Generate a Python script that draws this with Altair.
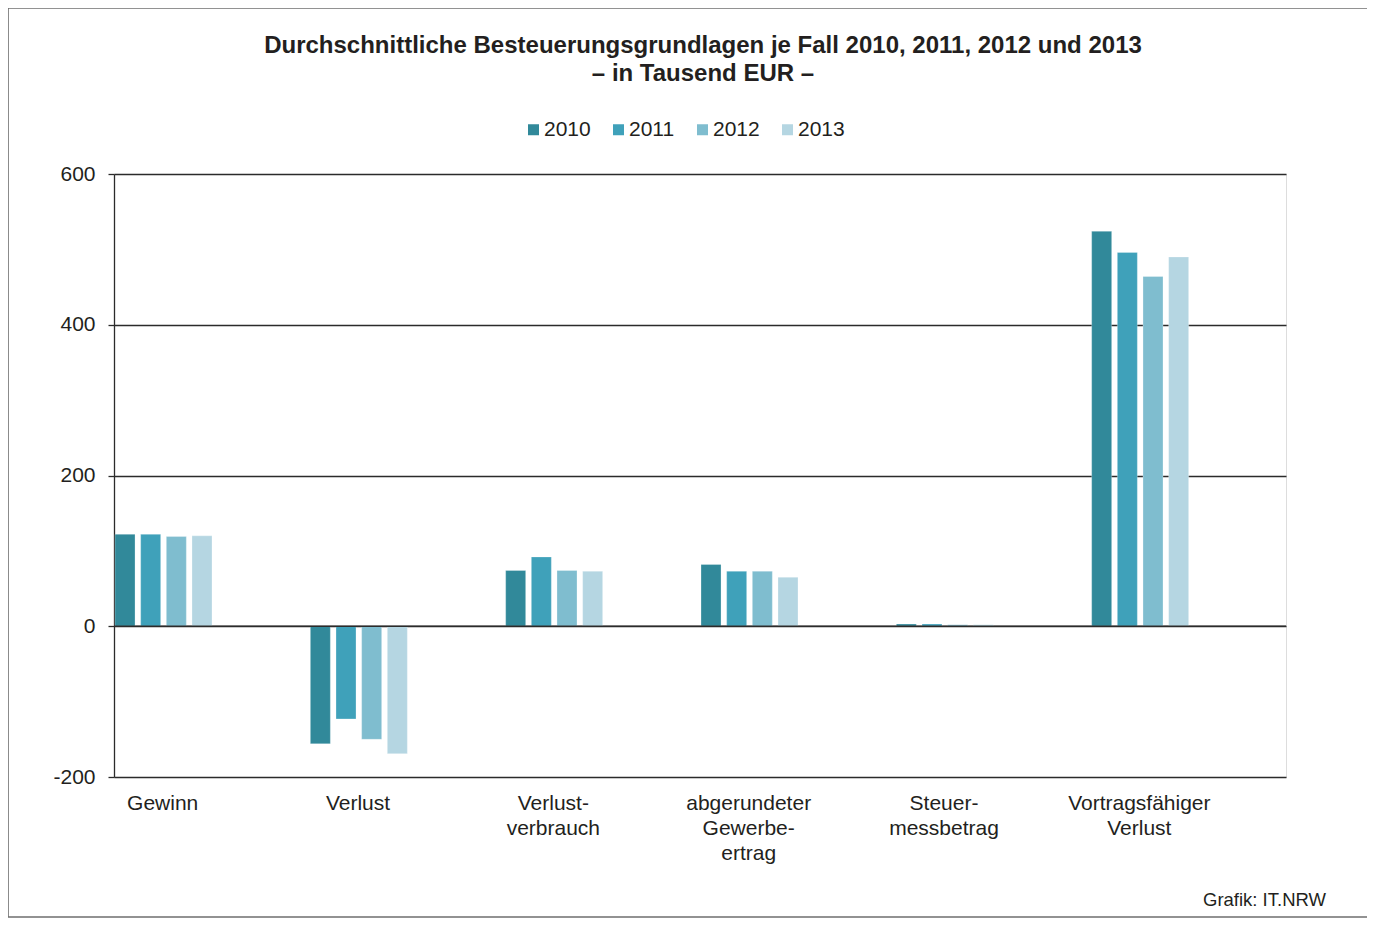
import altair as alt
import pandas as pd

categories = ["Gewinn", "Verlust", "Verlust-\nverbrauch", "abgerundeter\nGewerbe-\nertrag", "Steuer-\nmessbetrag", "Vortragsfähiger\nVerlust"]
years = ["2010", "2011", "2012", "2013"]
v2010 = [122, -156, 74, 82, 3, 524]
v2011 = [122, -123, 92, 73, 3, 496]
v2012 = [119, -150, 74, 73, 2, 464]
v2013 = [120, -169, 73, 65, 2, 490]
colors = ["#31899a", "#3fa1ba", "#7fbdcf", "#b5d6e2"]
y_ticks = [-200, 0, 200, 400, 600]

rows = []
for yr, vals in zip(years, [v2010, v2011, v2012, v2013]):
    for c, v in zip(categories, vals):
        rows.append({"Kategorie": c, "Jahr": yr, "Wert": v})
df = pd.DataFrame(rows)

FONT = "Liberation Sans"
TXT = "#231f20"
W, H = 1172, 603

x_enc = alt.X("Kategorie:N", sort=categories, title=None,
              scale=alt.Scale(paddingInner=0, paddingOuter=0),
              axis=alt.Axis(labelAngle=0, domain=False, ticks=False, labelFont=FONT,
                            labelFontSize=21, labelColor=TXT, labelPadding=15,
                            labelOffset=-49, labelBaseline="top", labelLineHeight=25,
                            labelExpr="split(datum.label, '\\n')"))

bars = alt.Chart(df).mark_bar(stroke="white", strokeOpacity=0.35, strokeWidth=0.8).encode(
    x=x_enc,
    xOffset=alt.XOffset("Jahr:N", sort=years,
                        scale=alt.Scale(range=[1, 98], paddingInner=0.22, paddingOuter=0)),
    y=alt.Y("Wert:Q", title=None,
            scale=alt.Scale(domain=[-200, 600], nice=False, zero=False),
            axis=alt.Axis(values=y_ticks, grid=True, gridColor="#2b2b2b", gridWidth=1.3,
                          domain=True, domainColor="#2b2b2b", domainWidth=1.3,
                          ticks=True, tickSize=6, tickColor="#2b2b2b", tickWidth=1.3,
                          labelFont=FONT, labelFontSize=21, labelColor=TXT, labelPadding=13,
                          labelExpr="datum.value < 0 ? '-' + abs(datum.value) : '' + datum.value")),
    color=alt.Color("Jahr:N", sort=years, scale=alt.Scale(domain=years, range=colors),
                    legend=alt.Legend(title=None, orient="none", direction="horizontal",
                                      legendX=409, legendY=-55, symbolType="square",
                                      symbolSize=121, symbolStrokeWidth=0,
                                      labelFont=FONT, labelFontSize=21, labelColor=TXT,
                                      labelOffset=0, columnPadding=17)),
)

zero = alt.Chart(pd.DataFrame({"z": [0]})).mark_rule(color="#2b2b2b", strokeWidth=1.6).encode(
    y=alt.Y("z:Q"))

credit = alt.Chart(pd.DataFrame({"t": ["Grafik: IT.NRW"]})).mark_text(
    font=FONT, fontSize=18.5, color=TXT, align="right", baseline="middle").encode(
    text="t:N", x=alt.value(1212), y=alt.value(726))

frame = alt.Chart(pd.DataFrame({"f": [0]})).mark_rect(
    filled=False, stroke="#6f6f6f", strokeWidth=1.6).encode(
    x=alt.value(-106), x2=alt.value(1254), y=alt.value(-166), y2=alt.value(743))

chart = alt.layer(bars, zero, credit, frame).properties(
    width=W, height=H,
    title=alt.TitleParams(
        ["Durchschnittliche Besteuerungsgrundlagen je Fall 2010, 2011, 2012 und 2013",
         "– in Tausend EUR –"],
        font=FONT, fontSize=24, fontWeight="bold", color=TXT, anchor="middle",
        lineHeight=28, offset=-79, dx=3),
    autosize=alt.AutoSizeParams(type="none"),
    padding={"left": 106, "top": 166, "right": 81, "bottom": 141},
).configure_view(stroke=None).configure(background="white")

chart.save("out.html", embed_options={"renderer": "svg", "actions": False})
